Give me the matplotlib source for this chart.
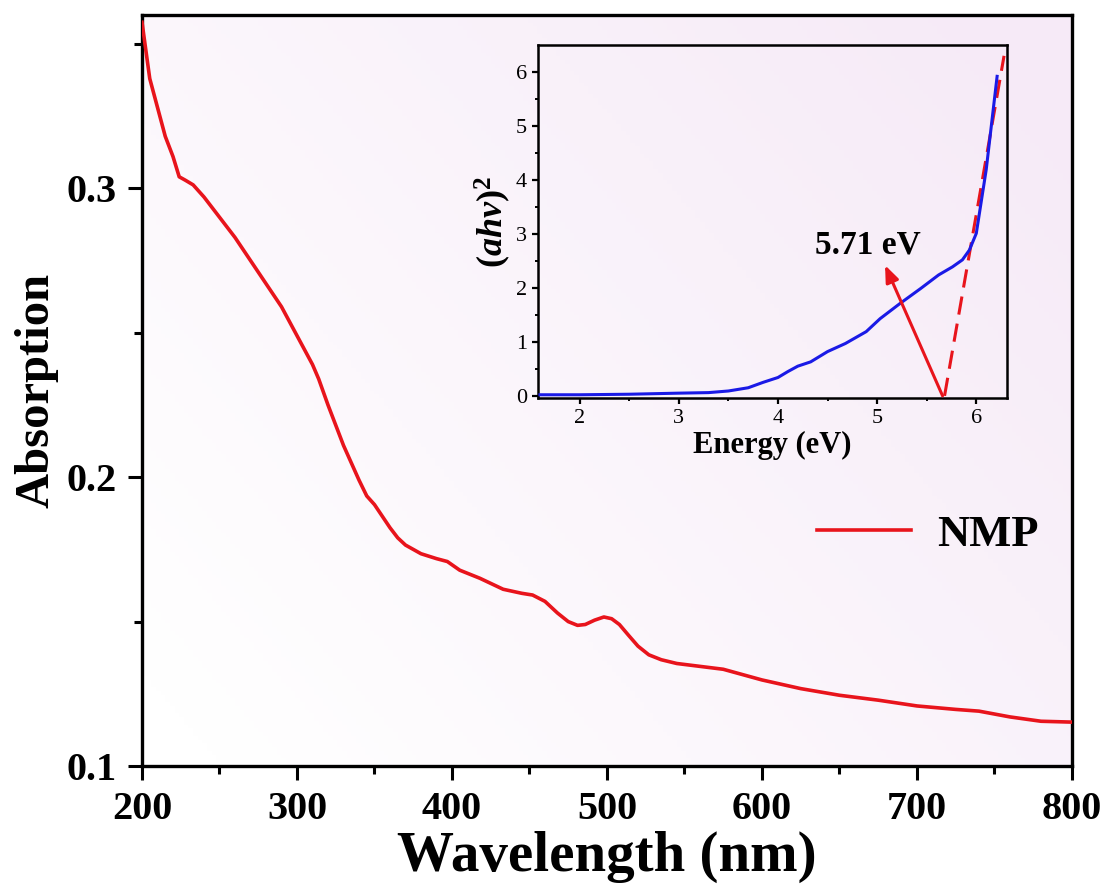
import numpy as np
import matplotlib
matplotlib.use("Agg")
import matplotlib.pyplot as plt
from matplotlib.colors import LinearSegmentedColormap

plt.rcParams['font.family'] = ['Liberation Serif', 'DejaVu Serif']
plt.rcParams['font.weight'] = 'bold'
plt.rcParams['mathtext.fontset'] = 'custom'
plt.rcParams['mathtext.rm'] = 'Liberation Serif:bold'
plt.rcParams['mathtext.bf'] = 'Liberation Serif:bold'
plt.rcParams['mathtext.it'] = 'Liberation Serif:italic:bold'
plt.rcParams['mathtext.bfit'] = 'Liberation Serif:italic:bold'

# ---- main spectrum (NMP) ----
wavelength = [200, 205, 210, 215, 220, 224, 228, 233, 240, 250, 260, 270, 280, 290,
              300, 310, 314, 320, 330, 340, 345, 350, 355, 360, 365, 370, 380, 390,
              397, 405, 418, 433, 445, 452, 460, 468, 475, 481, 486, 492, 498, 503,
              508, 514, 520, 527, 535, 545, 560, 575, 600, 625, 650, 675, 700, 725,
              740, 760, 780, 800]
absorption = [0.3575, 0.338, 0.328, 0.318, 0.311, 0.304, 0.3028, 0.3012, 0.297, 0.290,
              0.283, 0.275, 0.267, 0.259, 0.249, 0.239, 0.234, 0.225, 0.211, 0.199,
              0.1935, 0.1905, 0.1865, 0.1825, 0.1790, 0.1765, 0.1735, 0.1718, 0.1708,
              0.1678, 0.1650, 0.1612, 0.1598, 0.1592, 0.1570, 0.1530, 0.1500, 0.1487,
              0.1490, 0.1505, 0.1516, 0.1510, 0.1490, 0.1452, 0.1415, 0.1385, 0.1368,
              0.1355, 0.1345, 0.1335, 0.1298, 0.1268, 0.1245, 0.1228, 0.1208, 0.1196,
              0.1190, 0.1170, 0.1155, 0.1152]
series_label = "NMP"

# ---- inset Tauc plot ----
energy = [1.6, 2.0, 2.5, 3.0, 3.3, 3.5, 3.7, 3.85, 4.0, 4.1, 4.2, 4.33, 4.5, 4.68,
          4.89, 5.03, 5.23, 5.44, 5.62, 5.76, 5.86, 5.93, 6.0, 6.1, 6.21]
ahv2 = [0.02, 0.02, 0.03, 0.05, 0.06, 0.09, 0.15, 0.25, 0.34, 0.45, 0.55, 0.63, 0.82,
        0.97, 1.19, 1.43, 1.71, 1.99, 2.24, 2.39, 2.52, 2.70, 3.01, 4.19, 5.92]
fit_x = [5.68, 6.28]
fit_y = [0.0, 6.3]
arrow_tail = (5.66, 0.0)
arrow_head = (5.08, 2.42)
gap_label = "5.71 eV"
gap_label_pos = (4.91, 2.80)

fig = plt.figure(figsize=(11.12, 8.9), dpi=100)
ax = fig.add_axes([0.1277, 0.1393, 0.8363, 0.8438])

# background gradient
cmap = LinearSegmentedColormap.from_list("bg", ["#ffffff", "#f6eaf7"])
gx, gy = np.meshgrid(np.linspace(0, 1, 200), np.linspace(0, 1, 200))
grad = np.clip(0.65 * gx + 0.45 * gy - 0.05, 0, 1)
ax.imshow(grad, cmap=cmap, extent=[0, 1, 0, 1], transform=ax.transAxes,
          origin='lower', aspect='auto', zorder=0, vmin=0, vmax=1)

ax.plot(wavelength, absorption, color='#e8141c', lw=2.6, label=series_label, zorder=3)
ax.set_xlim(200, 800)
ax.set_ylim(0.1, 0.36)
ax.set_xticks([200, 300, 400, 500, 600, 700, 800])
ax.set_xticks(np.arange(250, 800, 100), minor=True)
ax.set_yticks([0.1, 0.2, 0.3])
ax.set_yticklabels(['0.1', '0.2', '0.3'])
ax.set_yticks([0.15, 0.25, 0.35], minor=True)
ax.tick_params(which='major', direction='out', length=10, width=2.2, labelsize=29, pad=8)
ax.tick_params(which='minor', direction='out', length=5.5, width=2.2)
for s in ax.spines.values():
    s.set_linewidth(2.4)
ax.set_xlabel("Wavelength (nm)", fontsize=41, fontweight='bold', labelpad=2)
ax.set_ylabel("Absorption", fontsize=35, fontweight='bold', labelpad=6)
leg = ax.legend(loc='center left', bbox_to_anchor=(0.683, 0.308), frameon=False,
                fontsize=32, handlelength=2.1, handletextpad=0.6)

# inset
axi = fig.add_axes([0.4838, 0.5528, 0.4218, 0.3966])
axi.patch.set_alpha(0)
axi.plot(fit_x, fit_y, color='#e8141c', lw=2.2, ls=(0, (6, 3)), zorder=2)
axi.plot(energy, ahv2, color='#1a1ae6', lw=2.2, zorder=3)
axi.annotate("", xy=arrow_head, xytext=arrow_tail,
             arrowprops=dict(arrowstyle='-|>,head_length=1.0,head_width=0.4',
                             color='#e8141c', lw=2.2, shrinkA=0, shrinkB=0), zorder=4)
axi.text(gap_label_pos[0], gap_label_pos[1], gap_label, fontsize=24, fontweight='bold',
         ha='center', va='center', zorder=5)
axi.set_xlim(1.58, 6.31)
axi.set_ylim(-0.04, 6.5)
axi.set_xticks([2, 3, 4, 5, 6])
axi.set_xticks([2.5, 3.5, 4.5, 5.5], minor=True)
axi.set_yticks([0, 1, 2, 3, 4, 5, 6])
axi.set_yticks(np.arange(0.5, 6.5, 1.0), minor=True)
axi.tick_params(which='major', direction='out', length=4, width=1.6, labelsize=16, pad=4)
axi.tick_params(which='minor', direction='out', length=2, width=1.4)
for lab in axi.get_xticklabels() + axi.get_yticklabels():
    lab.set_fontweight('normal')
for s in axi.spines.values():
    s.set_linewidth(1.8)
axi.set_xlabel("Energy (eV)", fontsize=22, fontweight='bold', labelpad=2)
axi.set_ylabel(r"$\mathbf{(}\mathbfit{ahv}\mathbf{)}^{\mathbf{2}}$", fontsize=26, labelpad=2)

fig.savefig("out.png", dpi=100, facecolor='white')
